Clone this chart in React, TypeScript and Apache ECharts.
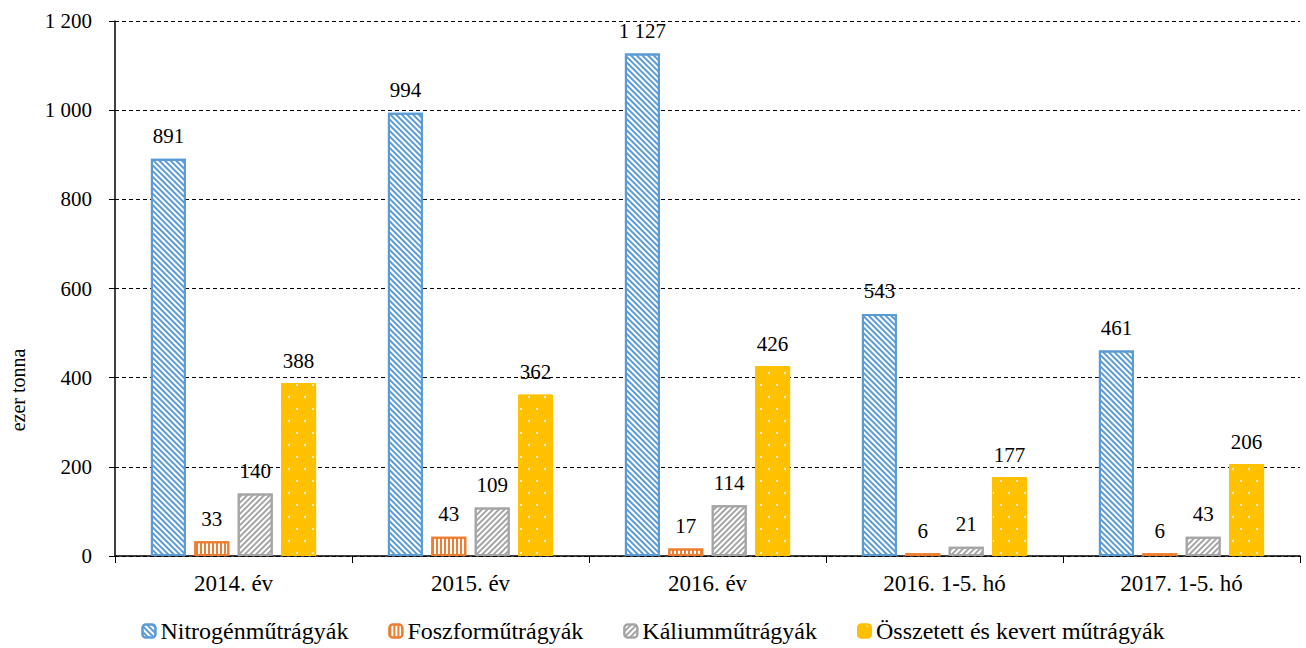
import React, { useEffect, useRef } from "react";
import * as echarts from "echarts";

const categories = ["2014. év", "2015. év", "2016. év", "2016. 1-5. hó", "2017. 1-5. hó"];
const nitrogen = [891, 994, 1127, 543, 461];
const foszfor = [33, 43, 17, 6, 6];
const kalium = [140, 109, 114, 21, 43];
const osszetett = [388, 362, 426, 177, 206];
const seriesNames = ["Nitrogénműtrágyák", "Foszforműtrágyák", "Káliumműtrágyák", "Összetett és kevert műtrágyák"];

const FONT = "Liberation Serif";
const fmt = (v: number) => String(v).replace(/\B(?=(\d{3})+(?!\d))/g, " ");

export default function App() {
  const ref = useRef<HTMLDivElement>(null);
  useEffect(() => {
    document.body.style.margin = "0";
    if (!ref.current) return;
    const chart = echarts.init(ref.current, undefined, { renderer: "svg" });
    const label = {
      show: true,
      position: "top",
      distance: 12,
      fontFamily: FONT,
      fontSize: 21,
      color: "#000",
      formatter: (p: any) => fmt(p.value),
    };
    const mk = (name: string, data: number[], itemStyle: any) => ({
      name,
      type: "bar",
      data,
      barWidth: 35,
      barGap: "24%",
      itemStyle,
      label,
    });
    chart.setOption({
      animation: false,
      textStyle: { fontFamily: FONT },
      grid: { left: 115, right: 6, top: 21, bottom: 92 },
      legend: {
        top: 614,
        left: "center",
        padding: [4, 5],
        itemWidth: 13,
        itemHeight: 13,
        itemGap: 40,
        textStyle: { fontFamily: FONT, fontSize: 24, color: "#000", lineHeight: 26 },
        data: seriesNames,
      },
      xAxis: {
        type: "category",
        data: categories,
        axisLine: { lineStyle: { color: "#000", width: 1.5 } },
        axisTick: { show: true, length: 7, lineStyle: { color: "#000" } },
        axisLabel: { fontFamily: FONT, fontSize: 23, color: "#000", margin: 16 },
      },
      yAxis: {
        type: "value",
        min: 0,
        max: 1200,
        interval: 200,
        axisLine: { show: true, lineStyle: { color: "#000", width: 1.5 } },
        axisTick: { show: true, length: 6, lineStyle: { color: "#000" } },
        axisLabel: { fontFamily: FONT, fontSize: 21, color: "#000", margin: 23, formatter: (v: number) => fmt(v) },
        splitLine: { lineStyle: { color: "#000", type: [4, 3], width: 1 } },
      },
      graphic: [
        {
          type: "text",
          x: 18,
          y: 390,
          rotation: Math.PI / 2,
          style: { text: "ezer tonna", fontFamily: FONT, fontSize: 20, fill: "#000", align: "center", verticalAlign: "middle" },
        },
      ],
      series: [
        mk(seriesNames[0], nitrogen, {
          color: "#ffffff",
          borderColor: "#5B9BD5",
          borderWidth: 2,
          decal: {
            symbol: "rect",
            symbolSize: 1,
            color: "#5B9BD5",
            dashArrayX: [1, 0],
            dashArrayY: [2, 2],
            rotation: Math.PI / 4,
          },
        }),
        mk(seriesNames[1], foszfor, {
          color: "#ffffff",
          borderColor: "#ED7D31",
          borderWidth: 2,
          decal: {
            symbol: "rect",
            symbolSize: 1,
            color: "#ED7D31",
            dashArrayX: [2, 2],
            dashArrayY: [1, 0],
            rotation: 0,
          },
        }),
        mk(seriesNames[2], kalium, {
          color: "#ffffff",
          borderColor: "#A5A5A5",
          borderWidth: 2,
          decal: {
            symbol: "rect",
            symbolSize: 1,
            color: "#A5A5A5",
            dashArrayX: [1, 0],
            dashArrayY: [2, 2],
            rotation: -Math.PI / 4,
          },
        }),
        mk(seriesNames[3], osszetett, {
          color: "#FFC000",
          borderColor: "#FFC000",
          borderWidth: 1,
          decal: {
            symbol: "circle",
            symbolSize: 1,
            color: "#ffffff",
            dashArrayX: [[2, 14], [0, 8, 2, 6]],
            dashArrayY: [2, 10],
            rotation: 0,
          },
        }),
      ],
    });
    return () => chart.dispose();
  }, []);
  return <div ref={ref} style={{ width: 1306, height: 648 }} />;
}
